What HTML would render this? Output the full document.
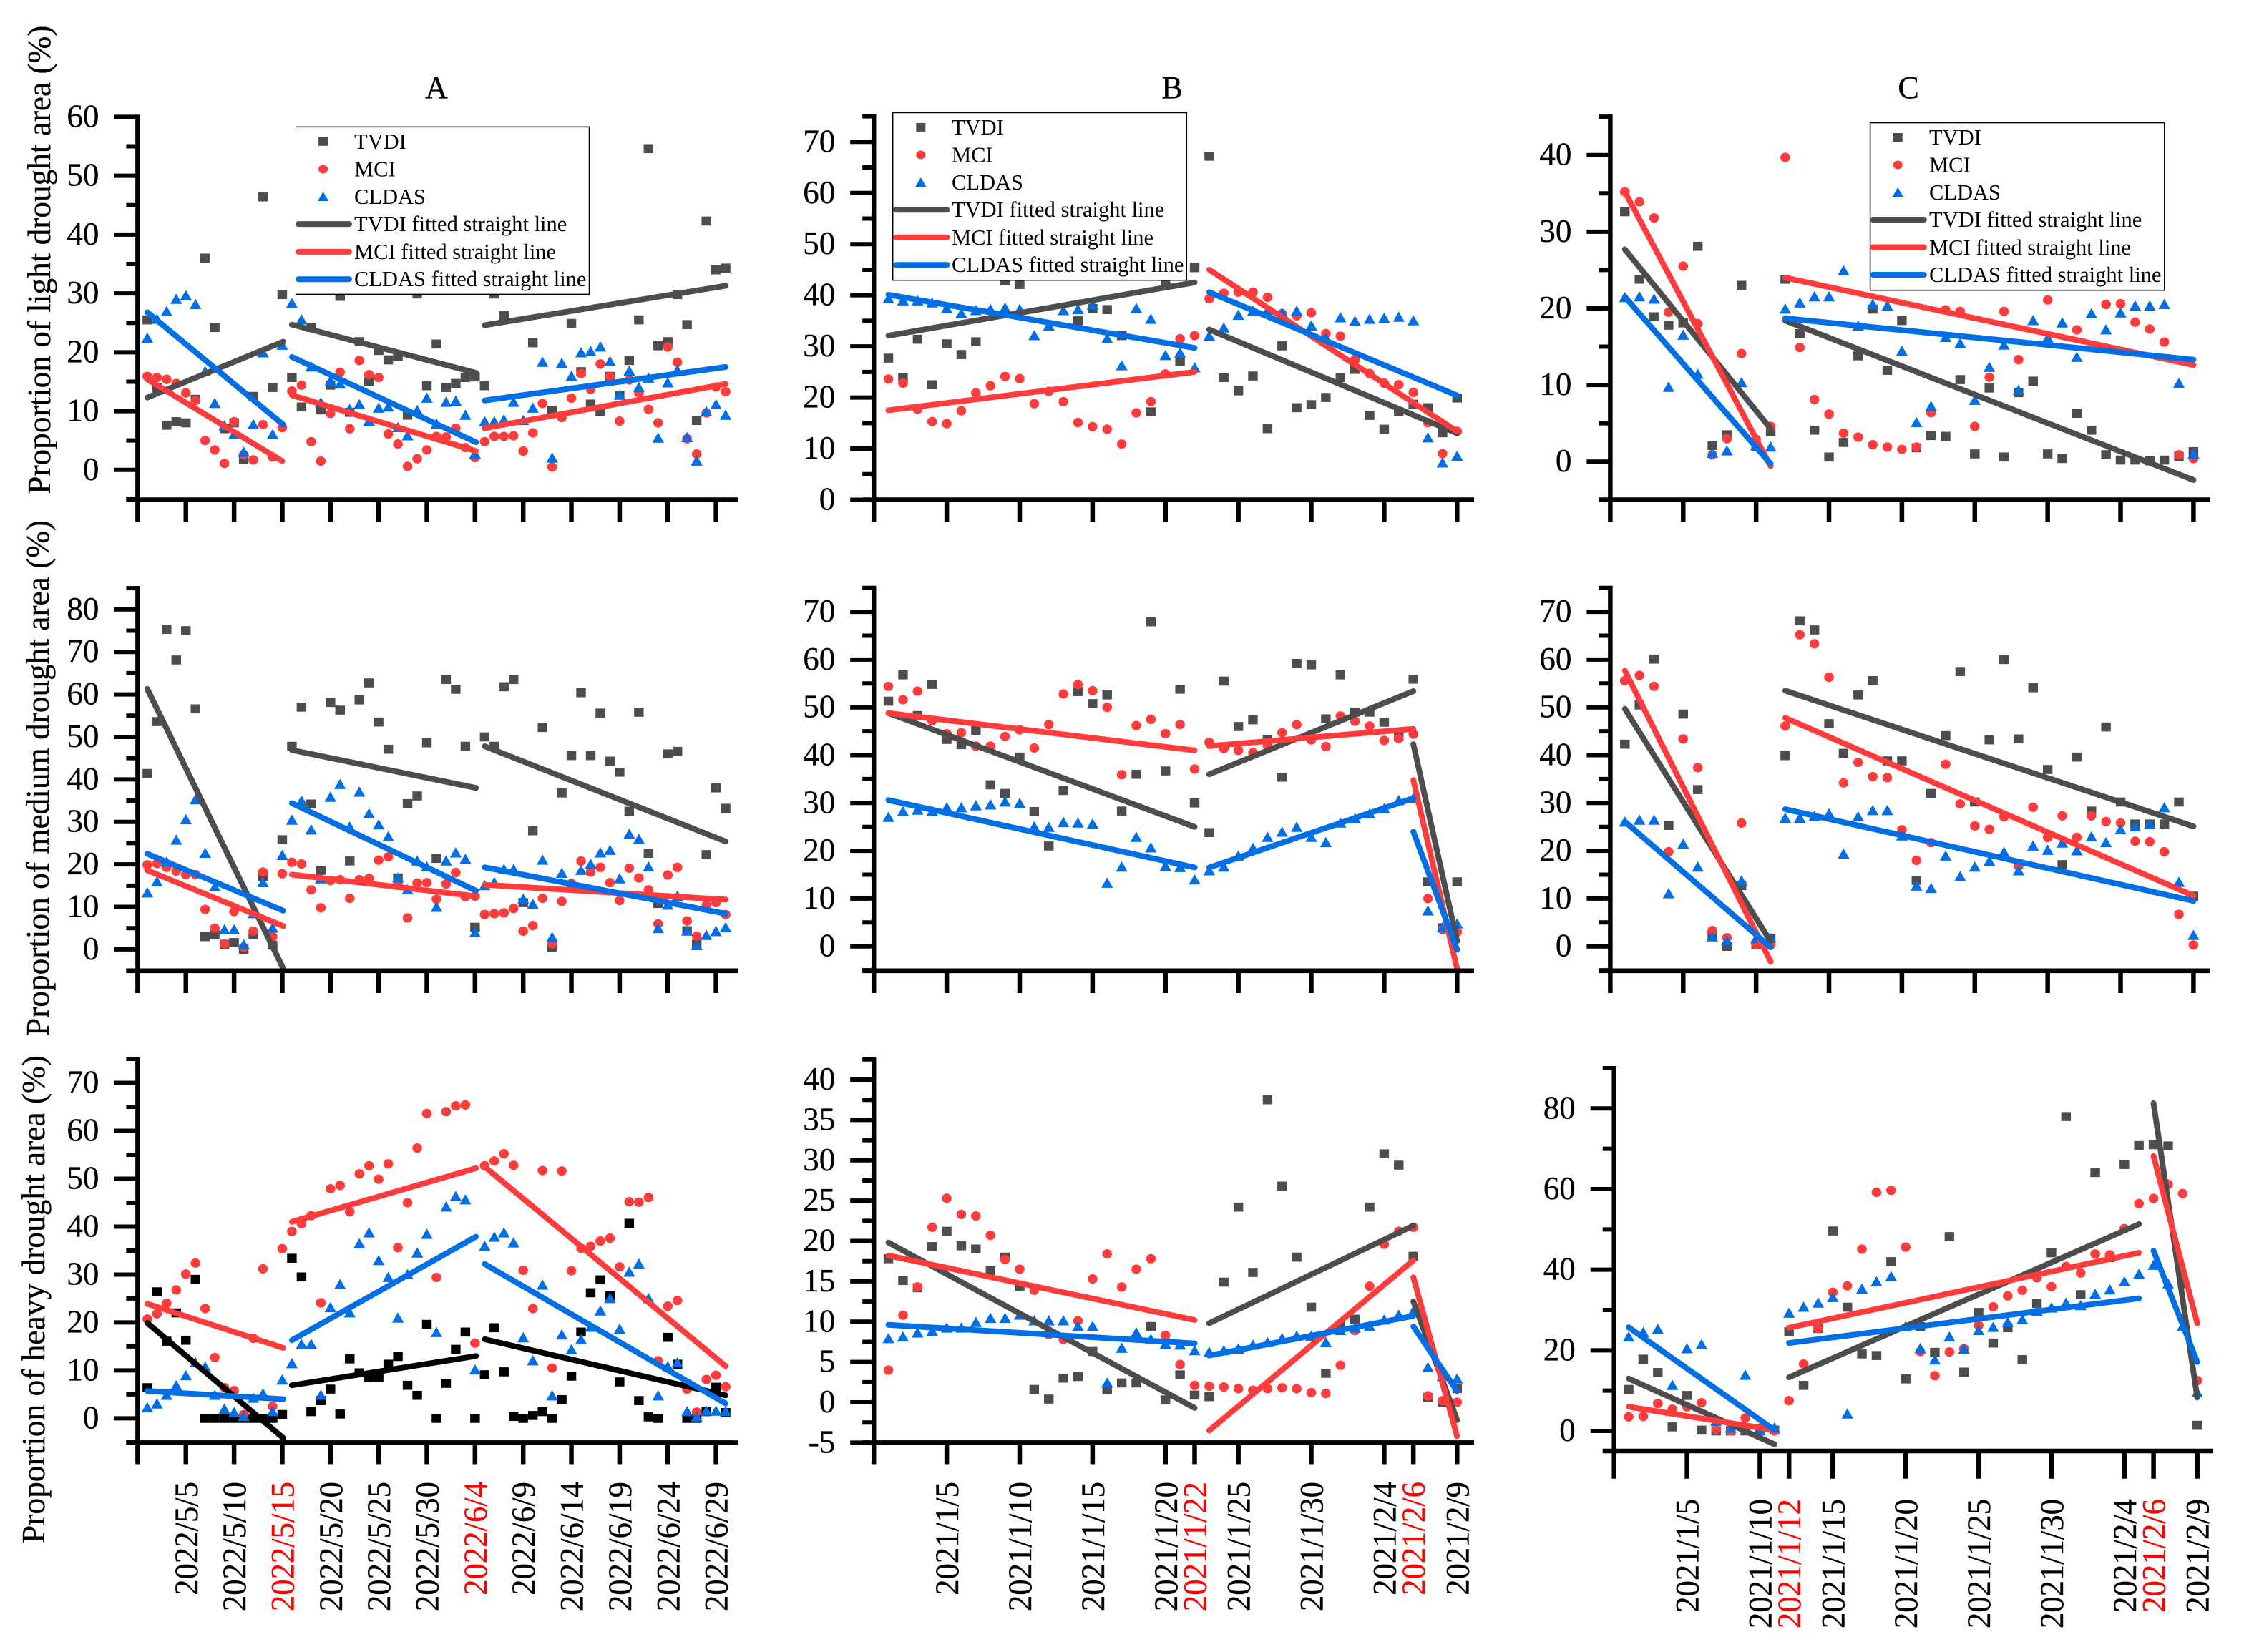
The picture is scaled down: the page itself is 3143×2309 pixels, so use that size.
<!DOCTYPE html>
<html lang="en">
<head>
<meta charset="utf-8">
<title>Proportion of drought area by index</title>
<style>
html,body{margin:0;padding:0;background:#fff;}
svg{display:block;font-family:"Liberation Serif",serif;}
</style>
</head>
<body>
<svg id="figure" xmlns="http://www.w3.org/2000/svg" width="3143" height="2309" viewBox="0 0 3143 2309">
<rect x="0" y="0" width="3143" height="2309" fill="#fff"/>
<g id="panels"></g>
<g stroke="#000" stroke-width="0.35">
<text x="610" y="137" font-size="44" text-anchor="middle">A</text>
<text x="1638" y="137" font-size="44" text-anchor="middle">B</text>
<text x="2667" y="137" font-size="44" text-anchor="middle">C</text>
<text transform="translate(70,690.7) rotate(-90)" font-size="46" textLength="655" lengthAdjust="spacingAndGlyphs">Proportion of light drought area (%)</text>
<text transform="translate(68,1448) rotate(-90)" font-size="46" textLength="721" lengthAdjust="spacingAndGlyphs">Proportion of medium drought area (%)</text>
<text transform="translate(62,2157) rotate(-90)" font-size="46" textLength="682" lengthAdjust="spacingAndGlyphs">Proportion of heavy drought area (%)</text>
</g>

<g font-size="30.5">
<rect x="413" y="177.4" width="410.5" height="234" fill="#fff"/>
<path d="M413 177.4H823.5V411.4H413" fill="none" stroke="#000" stroke-width="1.5"/>
<rect x="445.1" y="191.8" width="13" height="12" fill="#4d4d4d"/>
<ellipse cx="451.6" cy="236.5" rx="6.5" ry="6" fill="#ff3b3b"/>
<polygon points="451.6,268 444,281 459.2,281" fill="#006fe6"/>
<line x1="417" y1="313.1" x2="488" y2="313.1" stroke="#4d4d4d" stroke-width="8" stroke-linecap="round"/>
<line x1="417" y1="351.9" x2="488" y2="351.9" stroke="#ff3b3b" stroke-width="8" stroke-linecap="round"/>
<line x1="417" y1="390.2" x2="488" y2="390.2" stroke="#006fe6" stroke-width="8" stroke-linecap="round"/>
<text x="495" y="208">TVDI</text>
<text x="495" y="246.5">MCI</text>
<text x="495" y="285">CLDAS</text>
<text x="495" y="323">TVDI fitted straight line</text>
<text x="495" y="362">MCI fitted straight line</text>
<text x="495" y="400">CLDAS fitted straight line</text>
</g>

<g font-size="30.5">
<rect x="1247.7" y="157.5" width="410.6" height="234.2" fill="#fff" stroke="#000" stroke-width="1.5"/>
<rect x="1280.3" y="171.9" width="13" height="12" fill="#4d4d4d"/>
<ellipse cx="1286.8" cy="216.5" rx="6.5" ry="6" fill="#ff3b3b"/>
<polygon points="1286.8,248 1279.2,261 1294.4,261" fill="#006fe6"/>
<line x1="1252.3" y1="293.3" x2="1323.3" y2="293.3" stroke="#4d4d4d" stroke-width="8" stroke-linecap="round"/>
<line x1="1252.3" y1="331.8" x2="1323.3" y2="331.8" stroke="#ff3b3b" stroke-width="8" stroke-linecap="round"/>
<line x1="1252.3" y1="370.2" x2="1323.3" y2="370.2" stroke="#006fe6" stroke-width="8" stroke-linecap="round"/>
<text x="1330" y="188">TVDI</text>
<text x="1330" y="226.5">MCI</text>
<text x="1330" y="265">CLDAS</text>
<text x="1330" y="303">TVDI fitted straight line</text>
<text x="1330" y="342">MCI fitted straight line</text>
<text x="1330" y="380">CLDAS fitted straight line</text>
</g>

<g font-size="30.5">
<rect x="2613.6" y="171.6" width="411.2" height="234.1" fill="#fff" stroke="#000" stroke-width="1.5"/>
<rect x="2645.7" y="186" width="13" height="12" fill="#4d4d4d"/>
<ellipse cx="2652.2" cy="230.5" rx="6.5" ry="6" fill="#ff3b3b"/>
<polygon points="2652.2,262 2644.6,275 2659.8,275" fill="#006fe6"/>
<line x1="2617.6" y1="307" x2="2688.8" y2="307" stroke="#4d4d4d" stroke-width="8" stroke-linecap="round"/>
<line x1="2617.6" y1="345.5" x2="2688.8" y2="345.5" stroke="#ff3b3b" stroke-width="8" stroke-linecap="round"/>
<line x1="2617.6" y1="384" x2="2688.8" y2="384" stroke="#006fe6" stroke-width="8" stroke-linecap="round"/>
<text x="2696" y="202">TVDI</text>
<text x="2696" y="240.5">MCI</text>
<text x="2696" y="279">CLDAS</text>
<text x="2696" y="317">TVDI fitted straight line</text>
<text x="2696" y="356">MCI fitted straight line</text>
<text x="2696" y="394">CLDAS fitted straight line</text>
</g>
</svg>

<script>
// ---- Tick values and labels (x values are days since the period start) ----
const ticksA = [0,5,10,15,20,25,30,35,40,45,50,55,60];
const labelsA = ["","2022/5/5","2022/5/10","2022/5/15","2022/5/20","2022/5/25","2022/5/30","2022/6/4","2022/6/9","2022/6/14","2022/6/19","2022/6/24","2022/6/29"];
const redLabelsA = ["2022/5/15","2022/6/4"];
const ticksBC = [0,5,10,15,20,25,30,35,40];
const ticksB3 = [0,5,10,15,20,22,25,30,35,37,40];
const labelsB3 = ["","2021/1/5","2021/1/10","2021/1/15","2021/1/20","2021/1/22","2021/1/25","2021/1/30","2021/2/4","2021/2/6","2021/2/9"];
const redLabelsB3 = ["2021/1/22","2021/2/6"];
const ticksC3 = [0,5,10,12,15,20,25,30,35,37,40];
const labelsC3 = ["","2021/1/5","2021/1/10","2021/1/12","2021/1/15","2021/1/20","2021/1/25","2021/1/30","2021/2/4","2021/2/6","2021/2/9"];
const redLabelsC3 = ["2021/1/12","2021/2/6"];

const yMajorA1 = [0,10,20,30,40,50,60];
const yMinorA1 = [-5,5,15,25,35,45,55];
const yMajorA2 = [0,10,20,30,40,50,60,70,80];
const yMinorA2 = [-5,5,15,25,35,45,55,65,75,85];
const yMajor70 = [0,10,20,30,40,50,60,70];
const yMinor70 = [-5,5,15,25,35,45,55,65,75];
const yMajorB3 = [-5,0,5,10,15,20,25,30,35,40];
const yMinorB3 = [-2.5,2.5,7.5,12.5,17.5,22.5,27.5,32.5,37.5,42.5];
const yMajorC1 = [0,10,20,30,40];
const yMinorC1 = [-5,5,15,25,35,45];
const yMajorC3 = [0,20,40,60,80];
const yMinorC3 = [10,30,50,70,90];

// ---- Panel A1: light drought, period A (daily values from day 1) ----
const a1Tvdi = [25.5,14,7.6,8.2,8,12,36,24.2,7,8,1.8,12.5,46.4,14,29.8,15.7,10.7,24.2,10.2,14.4,29.5,9.8,21.8,15,20.3,18.7,19.3,9.3,29.9,14.3,21.4,14,14.7,15.7,15.8,14.3,29.9,26.2,33,35,21.6,32,10.1,33,24.9,16.7,11.2,9.9,15.9,12.7,18.6,25.5,54.6,21.1,21.8,29.8,24.7,8.4,42.3,34,34.3];
const a1Mci = [15.9,15.7,15.4,14.7,13.1,11.8,5,3.4,1.1,8.2,2.6,1.7,7.7,2.2,7.2,13.4,14.4,4.8,1.5,9.6,16.6,7,18.6,16.2,15.7,6.1,4.4,0.6,1.9,3.4,5.7,5.6,7.1,3.8,2.1,4.8,5.7,5.7,5.8,3.2,6.3,11.3,0.5,8.9,12.2,16.4,13.7,18,15.9,8.3,15.3,13.1,10.3,8,20.9,18.3,5.3,2.7,9.7,14.1,13.3];
const a1Cldas = [22.4,25.6,26.9,29,29.6,28.1,16.7,11.3,7.5,6,3,7.7,19.9,6,21.2,28.3,25.5,17.5,11.4,15.1,14.6,10.3,11.1,8.3,10.5,10.7,7.2,5.8,10.1,12.2,7.8,11.5,11.7,9.3,2.7,8.2,8.2,8.5,11.5,8.4,10.5,18.3,2,18.1,15.9,19.9,20.1,20.9,18.4,12.7,16.8,14,15.6,5.4,14.8,16.9,5.5,1.5,9.9,11.1,9.3];
const a1TvdiFit = [[1,12.3,15.1,21.8],[16,24.7,35.1,16.5],[36,24.6,61,31.3]];
const a1MciFit = [[1,15.4,15,1.5],[16,12.7,35.1,3.2],[36,7.1,61,14.6]];
const a1CldasFit = [[1,26.8,15.1,7.7],[16,19.2,35.1,4.7],[36,11.8,61,17.5]];

// ---- Panel A2: medium drought, period A ----
const a2Tvdi = [41.4,53.6,75.3,68.1,75,56.6,3,3.5,1.2,1.6,0,3.5,17.2,1,25.8,47.8,57,34.2,18.6,58.1,56.3,20.8,58.7,62.7,53.5,47.1,16.8,34.3,36.1,48.6,21.4,63.5,61.2,47.8,5.2,50,47.8,61.8,63.5,11,27.9,52.2,0.5,36.8,45.6,60.4,45.6,55.6,44.3,41.7,32.5,55.8,22.6,10.8,46,46.6,4.4,1.2,22.3,38,33.2];
const a2Mci = [19.9,20.2,19.3,18.4,17.6,17.6,9.4,5,1.3,8.9,0.5,4.3,18.2,3,17.8,20.5,20.1,14,9.8,16.2,16.4,12,16.4,16.7,21,21.8,15.4,7.4,15.6,15.7,11.8,15.4,18.1,12.4,12.5,8.2,8.4,8.6,9.6,4.3,5.6,12,1.3,11.3,15.5,20.8,18.2,19.3,15.7,11.5,19.1,16.8,14,6,17.5,19.3,6.7,3.1,10.4,11,8.2];
const a2Cldas = [13.3,15.9,20.5,25.7,30.5,35.2,22.6,14.7,4.6,4.6,1.1,8.4,15.7,5,22.1,30.4,34.9,28.1,16.6,35.8,38.8,28.8,37,31.9,29.3,26.5,16.8,14,20.8,19.4,9.9,20.8,22.7,21.2,3.9,15,15.7,18.8,18.8,11.8,10.6,21,2.8,17.9,15.4,18.6,20,22.7,23.3,16.6,27.1,25.9,19.4,4.9,10.4,12.5,4.3,0.9,3.3,4.2,5.1];
const a2TvdiFit = [[1,61.3,15.1,-4.5],[16,46.9,35.1,38],[36,47.8,61,25.4]];
const a2MciFit = [[1,18.6,15.1,5.5],[16,17.6,35.1,12.5],[36,15.2,61,11.7]];
const a2CldasFit = [[1,22.5,15.1,9.1],[16,34.4,35.1,13.8],[36,19.3,61,8.4]];

// ---- Panel A3: heavy drought, period A ----
const a3Tvdi = [6.4,26.4,16.1,22,16.3,29,0,0,0,0,0,0,0,0,0.8,33.4,29.5,1.4,3.7,6.1,0.9,12.4,9.5,8.6,8.6,11.3,12.9,6.9,4.8,19.6,0,7.3,14.4,18,0,9.1,18.9,9.7,0.4,0,0.6,1.4,0,3.9,8.8,18,26.2,28.9,25.6,7.6,40.7,3.7,0.3,0,16.9,11.3,0,0,1.4,6.5,1.2];
const a3Mci = [20.7,21.8,24,26.8,30.1,32.4,22.9,12.7,6.4,5.8,0.8,16.7,31.2,2.5,35.4,39,40.6,42.3,24.1,47.9,48.6,43.1,51,52.7,49.9,53.1,35.6,45,56.4,63.6,29.4,64,65.2,65.4,15.7,52.7,53.7,55.2,52.8,30.9,22.9,51.7,10.5,51.6,30.8,35.5,35.9,37,37.6,31.6,45.2,45.1,46.1,12,23.4,24.6,6.1,1.3,8.1,9,6.6];
const a3Cldas = [2.2,3,4.8,6.8,8.9,11.6,10.7,4.8,1.9,1.2,0.4,4.2,5.1,1.4,8,11.4,15.4,15.4,4.8,23.1,27.9,22,36.4,38.7,32.9,29.4,20.9,30,34.5,38.4,17.9,44.1,46.3,45.6,10.1,35.9,37.8,38.7,36.6,16.8,12,27.8,4.7,17.4,14.3,16.4,19,22.4,25,18.6,30.5,32.2,25,4.7,10.8,11.6,1.4,0.3,1.5,1.5,1.4];
const a3TvdiFit = [[1,19.9,15.1,-4.1],[16,6.9,35.1,13],[36,16.5,61,4.8]];
const a3MciFit = [[1,23.9,15.1,14.7],[16,41,35.1,52.2],[36,52.5,61,10.9]];
const a3CldasFit = [[1,5.7,15.1,4],[16,16.3,35.1,37.9],[36,32.2,61,3.1]];

// ---- Panel B1: light drought, period B ----
const b1Tvdi = [27.7,23.9,31.4,22.5,30.5,28.4,30.9,46,42.8,42.1,45,47,46,35,37.4,37.2,32.1,44,17.2,42.5,27,45.4,67.2,23.9,21.3,24.2,13.9,30.1,18,18.6,20,23.9,25.5,16.5,13.8,17.2,18.7,18,13.1,19.9];
const b1Mci = [23.6,22.8,17.7,15.3,14.9,17.4,20.9,22.3,24.1,23.7,18.8,21.2,19.2,15.1,14.3,13.8,10.9,17,19.2,24.6,31.5,32.1,39.3,40.4,40.6,40.6,39.6,36.4,36,36.6,32.5,32,27.4,24.7,22.8,22.5,21,15.1,9,13.4];
const b1Cldas = [39.3,38.9,38.9,38.5,37.4,36.4,37,37.2,37.5,37.2,32.1,34,37,37.2,38.1,31.5,26.2,37.4,35.3,28.2,28.7,25.8,32,33.6,36.1,36.9,37,36.5,36.9,34,31.6,35.6,34.9,35.3,35.5,35.7,35,12.1,7.2,8.5];
const b1TvdiFit = [[1,32.1,22,42.5],[23,33.3,40,13]];
const b1MciFit = [[1,17.5,22,25],[23,45,40,13.4]];
const b1CldasFit = [[1,40.1,22,29.7],[23,40.6,40,20.4]];

// ---- Panel B2: medium drought, period B ----
const b2Tvdi = [51.3,56.8,48.3,54.8,43.3,42.2,45.2,33.8,32,39.6,28.2,21,32.6,53.3,50.8,52.6,28.3,36,67.9,36.7,53.8,30,23.8,55.5,46,47.4,43.3,35.4,59.2,58.9,47.6,56.8,49,49,46.9,43.9,55.9,13.5,3.9,13.5];
const b2Mci = [54.4,51.6,53.4,47.2,44.5,44.7,41.9,41.9,43.9,45.3,41.5,46.4,52.8,54.8,53.5,50,35.9,46.2,47.5,44.5,46.4,37.1,42.7,41.4,41,40.5,42,44.7,46.4,43.2,41.8,48.2,47.1,46.1,43.1,43.5,44.4,10,3.5,3];
const b2Cldas = [27,28.2,28.5,28.2,29,29,29.4,29.6,30.2,29.9,25,24.9,25.9,25.8,25.6,13.2,16.6,22.8,20.6,16.7,16.5,13.9,15.8,16.6,18.9,20.5,22.8,23.9,24.9,22.8,21.7,25.8,26.7,27.7,28.8,30.5,31,7.4,3.9,4.7];
const b2TvdiFit = [[1,48.8,22,25],[23,36,37,53.4],[37,42.3,40,1.1]];
const b2MciFit = [[1,48.8,22,41],[23,41.9,37,45.5],[37,34.8,40,-4.7]];
const b2CldasFit = [[1,30.6,22,16.5],[23,16.5,37,31],[37,24,40,-0.7]];

// ---- Panel B3: heavy drought, period B ----
const b3Tvdi = [17.8,15.1,14.2,19.3,21.2,19.4,19,16.3,18,14.4,1.6,0.4,3,3.2,6.3,1.6,2.4,2.4,9.4,0.3,3.4,0.9,0.7,14.9,24.2,16.1,37.5,26.8,18,11.8,3.6,9.5,10.3,24.2,30.8,29.4,18.1,0.6,0,1.7];
const b3Mci = [4,10.8,14.3,21.7,25.3,23.3,23.1,20.7,17.7,16.5,13.9,8.4,7.8,10.1,15.3,18.4,14.3,16.5,17.8,8.3,4.7,2.1,2,1.9,1.7,1.5,1.7,1.8,1.7,1.2,1.1,4.6,8.9,14.4,19.6,21.2,21.7,0.8,0.2,0];
const b3Cldas = [7.9,8.1,8.6,8.8,9.2,9.2,9.9,10.4,10.4,10.8,10.1,10.1,10.1,9.4,9.4,2.4,6.7,8.6,7.8,7.2,7.1,6.4,6.2,6.4,6.6,7.1,7.4,7.9,8.2,8.2,7.4,8.9,9.2,9.4,10.2,10.8,11.3,4.3,3.2,2.9];
const b3TvdiFit = [[1,19.8,22,-0.7],[23,9.8,37,21.9],[37,12.5,40,-2.2]];
const b3MciFit = [[1,18.2,22,10.2],[23,-3.5,37,17.6],[37,15.5,40,-4.2]];
const b3CldasFit = [[1,9.6,22,7.3],[23,5.8,37,10.7],[37,9.4,40,1.4]];

// ---- Panel C1: light drought, period C ----
const c1Tvdi = [32.6,23.8,18.9,17.8,18.1,28.1,2.1,3.5,23,2,3.9,23.8,16.7,4.1,0.6,2.5,13.8,19.9,11.9,18.4,1.8,3.4,3.3,10.7,1,9.6,0.6,9,10.5,1,0.4,6.3,4.1,0.9,0.2,0.2,0.1,0.2,0.7,1.3];
const c1Mci = [35.2,33.9,31.8,19.5,25.5,18,0.9,3,14.1,2.9,4.6,39.7,14.9,8.1,6.2,3.7,3.2,2.2,1.9,1.6,1.9,6.4,19.8,19.6,4.6,11,19.6,13.3,25,21.1,26,17.2,24,20.5,20.6,18.2,17.3,15.6,0.9,0.4];
const c1Cldas = [21.4,21.5,21.2,9.7,16.5,11.4,1.1,1.4,10.3,2.1,1.9,19.9,20.7,21.5,21.5,24.9,17.7,20.5,20.3,14.4,5.1,7.2,16.2,15.4,8,12.3,15.2,9.3,18.4,16.1,18.1,13.6,19.3,17.2,19.4,20.3,20.3,20.5,10.2,1];
const c1TvdiFit = [[1,27.7,11,4.3],[12,18.4,40,-2.4]];
const c1MciFit = [[1,35.2,11,-0.6],[12,24,40,12.6]];
const c1CldasFit = [[1,21.5,11,-0.3],[12,18.7,40,13.3]];

// ---- Panel C2: medium drought, period C ----
const c2Tvdi = [42.3,50.5,60.1,25.3,48.6,32.8,2.3,0,12.7,0.4,1.7,39.9,68.1,66.2,46.6,40.4,52.6,55.6,38.8,38.8,13.8,32,44.1,57.5,30.2,43.2,60,43.4,54.1,37,17.1,39.6,28.3,45.9,30.2,25.6,25.6,25.6,30.2,10.5];
const c2Mci = [55.6,56.7,54.4,19.8,43.4,37.4,3.3,1.8,25.8,0.4,0.3,46.1,65.2,63.3,56.3,34.2,38.5,35.5,35.3,24.4,18,21.7,38.1,29.8,25.2,24.5,27.1,16.8,29.1,22.8,27.3,22.8,27.3,26.1,25.8,22,21.9,19.8,6.7,0.3];
const c2Cldas = [26,26.4,26.4,11,21.4,16.6,2,1.1,13.7,1.6,1.7,26.8,26.8,27.2,27.7,19.3,27.1,28.4,28.4,23.1,12.6,12.1,18.9,14.6,16.6,17.8,19.7,15.8,21,20.1,21.6,20,22.9,21.7,24.4,25,25.5,29,13.4,2.3];
const c2TvdiFit = [[1,49.7,11,1],[12,53.5,40,25.1]];
const c2MciFit = [[1,57.7,11,-3.2],[12,47.8,40,10.6]];
const c2CldasFit = [[1,26.1,11,-0.2],[12,28.7,40,9.5]];

// ---- Panel C3: heavy drought, period C ----
const c3Tvdi = [10.3,17.8,14.5,1,8.8,0.2,0,0,0,0,0.2,24.6,11.3,25.4,49.6,30.7,19.1,18.7,42,12.9,25.9,19.5,48.2,14.6,29.4,21.8,25.6,17.7,31.6,44.2,78,33.8,64.1,43,66.1,70.8,71,70.7,36.5,1.4];
const c3Mci = [3.5,3.6,6.8,5.4,6,7,0.4,0,3.2,0.7,0,7.5,16.6,25.4,34.4,36,45.1,59.2,59.7,45.6,19.7,13.7,19.6,20.4,26.2,30.8,33.5,34.9,38,35.8,40.8,39.2,43.9,43.7,50.2,56.4,57.7,61.2,58.9,12.5];
const c3Cldas = [23.3,24.4,25.2,11.3,20.4,21.4,2.4,0.7,13.8,0.2,0.7,29.2,30.7,31.7,33.1,4.2,35.2,37,38.3,25.9,20.4,17.6,23.3,20.3,24.9,25.7,26.9,27.6,29.7,30.5,31.7,31.1,33.9,35,37,38.9,41.1,36.5,26,9.5];
const c3TvdiFit = [[1,13,11,-3.3],[12,13.3,36,51.3],[37,81.3,40,8.3]];
const c3MciFit = [[1,6,11,0.2],[12,25.6,36,44.2],[37,68.2,40,26.7]];
const c3CldasFit = [[1,25.7,11,0.2],[12,21.8,36,32.9],[37,44.7,40,17.1]];

// ---- Rendering ----
const NS = 'http://www.w3.org/2000/svg';
const DARK = '#4d4d4d', RED = '#ff3b3b', BLUE = '#006fe6';
const root = document.getElementById('panels');

function linear(domain, range) {
  return function (v) {
    return range[0] + (v - domain[0]) * (range[1] - range[0]) / (domain[1] - domain[0]);
  };
}
function make(parent, tag, attrs) {
  const el = document.createElementNS(NS, tag);
  for (const k in attrs) el.setAttribute(k, attrs[k]);
  parent.appendChild(el);
  return el;
}

function drawMarks(g, shape, color, values, xS, yS) {
  values.forEach(function (v, i) {
    const x = xS(i + 1), y = yS(v);
    let el;
    if (shape === 'square') {
      el = make(g, 'rect', { x: x - 6.7, y: y - 6.3, width: 13.4, height: 12.6, fill: color });
    } else if (shape === 'circle') {
      el = make(g, 'ellipse', { cx: x, cy: y, rx: 6.8, ry: 6.6, fill: color });
    } else {
      el = make(g, 'polygon', { points: x + ',' + (y - 8) + ' ' + (x - 8.2) + ',' + (y + 6.4) + ' ' + (x + 8.2) + ',' + (y + 6.4), fill: color });
    }
    
    
  });
}

function drawFits(g, color, fits, xS, yS) {
  fits.forEach(function (f, i) {
    const el = make(g, 'line', { x1: xS(f[0]), y1: yS(f[1]), x2: xS(f[2]), y2: yS(f[3]), stroke: color, 'stroke-width': 8, 'stroke-linecap': 'round' });
    
    
  });
}

function drawPanel(p) {
  const g = make(root, 'g', {});
  
  
  const xS = linear([0, p.days], [p.left, p.right]);
  const yS = linear(p.yDomain, p.yRange);

  // scatter marks, then fitted segments on top
  drawMarks(g, 'square', p.tvdiColor, p.tvdi, xS, yS);
  drawMarks(g, 'circle', RED, p.mci, xS, yS);
  drawMarks(g, 'triangle', BLUE, p.cldas, xS, yS);
  drawFits(g, p.tvdiColor, p.tvdiFit, xS, yS);
  drawFits(g, RED, p.mciFit, xS, yS);
  drawFits(g, BLUE, p.cldasFit, xS, yS);

  // axes
  const allY = p.yMajor.concat(p.yMinor);
  const topPx = yS(Math.max.apply(null, allY)) - 3;
  const yAxis = make(g, 'line', { x1: p.left, y1: topPx, x2: p.left, y2: p.axisY, stroke: '#000', 'stroke-width': 6.5 });
  
  
  const xAxis = make(g, 'line', { x1: p.left - 16, y1: p.axisY, x2: p.xEnd, y2: p.axisY, stroke: '#000', 'stroke-width': 6.6 });
  
  

  p.yMajor.forEach(function (v) {
    const y = yS(v);
    const t = make(g, 'line', { x1: p.left - 33, y1: y, x2: p.left, y2: y, stroke: '#000', 'stroke-width': 6 });
    
    
    const lab = make(g, 'text', { x: p.left - 54, y: y + 14, 'font-size': 45, 'text-anchor': 'end', fill: '#000', stroke: '#000', 'stroke-width': 0.35 });
    lab.textContent = String(v);
    
    
  });
  p.yMinor.forEach(function (v) {
    const y = yS(v);
    const t = make(g, 'line', { x1: p.left - 16, y1: y, x2: p.left, y2: y, stroke: '#000', 'stroke-width': 6 });
    
    
  });
  p.xTicks.forEach(function (d, i) {
    const x = xS(d);
    const t = make(g, 'line', { x1: x, y1: p.axisY, x2: x, y2: p.tickEnd, stroke: '#000', 'stroke-width': 6.5 });
    
    
    if (p.xLabels && p.xLabels[i]) {
      const isRed = p.redLabels.indexOf(p.xLabels[i]) >= 0;
      const labColor = isRed ? '#ff0000' : '#000';
      const lab = make(g, 'text', { transform: 'translate(' + (x + 16) + ',' + p.labelTop + ') rotate(-90) scale(0.95,1)', 'font-size': 47, 'text-anchor': 'end', fill: labColor, stroke: labColor, 'stroke-width': 0.35 });
      lab.textContent = p.xLabels[i];
      
      
    }
  });
}

const colA = { days: 60, left: 192.4, right: 1000.6, xEnd: 1031 };
const colB = { days: 40, left: 1221.2, right: 2036.3, xEnd: 2060 };
const colC = { days: 40, left: 2250.4, right: 3065.4, xEnd: 3089 };
const colC3 = { days: 40, left: 2255.7, right: 3070.7, xEnd: 3093 };

[
  Object.assign({}, colA, { id: 'a-light', tvdiColor: DARK, yDomain: [0, 60], yRange: [656.8, 163.4], axisY: 698.5, tickEnd: 729.5, yMajor: yMajorA1, yMinor: yMinorA1, xTicks: ticksA, tvdi: a1Tvdi, mci: a1Mci, cldas: a1Cldas, tvdiFit: a1TvdiFit, mciFit: a1MciFit, cldasFit: a1CldasFit }),
  Object.assign({}, colA, { id: 'a-medium', tvdiColor: DARK, yDomain: [0, 80], yRange: [1326.9, 851.8], axisY: 1356.8, tickEnd: 1388, yMajor: yMajorA2, yMinor: yMinorA2, xTicks: ticksA, tvdi: a2Tvdi, mci: a2Mci, cldas: a2Cldas, tvdiFit: a2TvdiFit, mciFit: a2MciFit, cldasFit: a2CldasFit }),
  Object.assign({}, colA, { id: 'a-heavy', tvdiColor: '#000', yDomain: [0, 70], yRange: [1982.4, 1513.5], axisY: 2016.4, tickEnd: 2046.4, yMajor: yMajor70, yMinor: yMinor70, xTicks: ticksA, xLabels: labelsA, redLabels: redLabelsA, labelTop: 2071, tvdi: a3Tvdi, mci: a3Mci, cldas: a3Cldas, tvdiFit: a3TvdiFit, mciFit: a3MciFit, cldasFit: a3CldasFit }),
  Object.assign({}, colB, { id: 'b-light', tvdiColor: DARK, yDomain: [0, 70], yRange: [698.5, 198.3], axisY: 698.5, tickEnd: 729.5, yMajor: yMajor70, yMinor: yMinor70.slice(1), xTicks: ticksBC, tvdi: b1Tvdi, mci: b1Mci, cldas: b1Cldas, tvdiFit: b1TvdiFit, mciFit: b1MciFit, cldasFit: b1CldasFit }),
  Object.assign({}, colB, { id: 'b-medium', tvdiColor: DARK, yDomain: [0, 70], yRange: [1322.7, 855.1], axisY: 1356.8, tickEnd: 1388, yMajor: yMajor70, yMinor: yMinor70, xTicks: ticksBC, tvdi: b2Tvdi, mci: b2Mci, cldas: b2Cldas, tvdiFit: b2TvdiFit, mciFit: b2MciFit, cldasFit: b2CldasFit }),
  Object.assign({}, colB, { id: 'b-heavy', tvdiColor: DARK, yDomain: [-5, 40], yRange: [2016.4, 1509], axisY: 2016.4, tickEnd: 2046.4, yMajor: yMajorB3, yMinor: yMinorB3, xTicks: ticksB3, xLabels: labelsB3, redLabels: redLabelsB3, labelTop: 2071, tvdi: b3Tvdi, mci: b3Mci, cldas: b3Cldas, tvdiFit: b3TvdiFit, mciFit: b3MciFit, cldasFit: b3CldasFit }),
  Object.assign({}, colC, { id: 'c-light', tvdiColor: DARK, yDomain: [0, 40], yRange: [645.2, 216.7], axisY: 698.5, tickEnd: 729.5, yMajor: yMajorC1, yMinor: yMinorC1, xTicks: ticksBC, tvdi: c1Tvdi, mci: c1Mci, cldas: c1Cldas, tvdiFit: c1TvdiFit, mciFit: c1MciFit, cldasFit: c1CldasFit }),
  Object.assign({}, colC, { id: 'c-medium', tvdiColor: DARK, yDomain: [0, 70], yRange: [1322.7, 855.1], axisY: 1356.8, tickEnd: 1388, yMajor: yMajor70, yMinor: yMinor70, xTicks: ticksBC, tvdi: c2Tvdi, mci: c2Mci, cldas: c2Cldas, tvdiFit: c2TvdiFit, mciFit: c2MciFit, cldasFit: c2CldasFit }),
  Object.assign({}, colC3, { id: 'c-heavy', tvdiColor: DARK, yDomain: [0, 80], yRange: [2000, 1549.3], axisY: 2028, tickEnd: 2066.7, yMajor: yMajorC3, yMinor: yMinorC3, xTicks: ticksC3, xLabels: labelsC3, redLabels: redLabelsC3, labelTop: 2095, tvdi: c3Tvdi, mci: c3Mci, cldas: c3Cldas, tvdiFit: c3TvdiFit, mciFit: c3MciFit, cldasFit: c3CldasFit })
].forEach(drawPanel);
</script>
</body>
</html>
